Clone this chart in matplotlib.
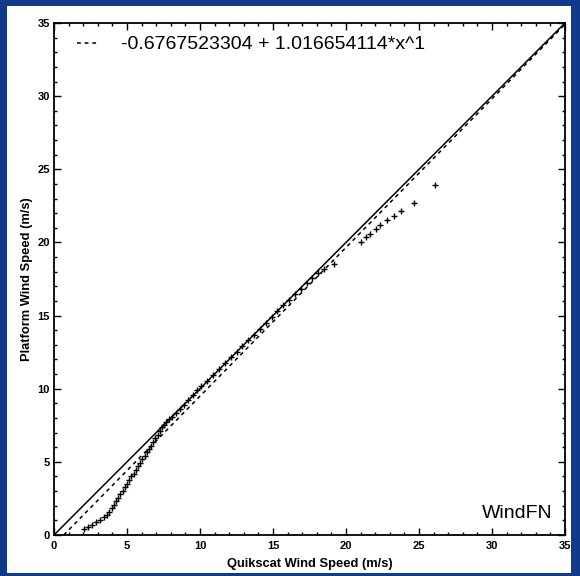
import matplotlib
matplotlib.use('Agg')
import numpy as np
from matplotlib import pyplot as plt
from matplotlib.patches import Rectangle

# quantile pairs (Quikscat vs platform)
quikscat = [2.05, 2.35, 2.6, 2.9, 3.15, 3.4, 3.6, 3.8, 3.95, 4.1, 4.25, 4.4, 4.55,
            4.7, 4.85, 5.0, 5.15, 5.3, 5.45, 5.6, 5.75, 5.9, 6.05, 6.2, 6.35, 6.5,
            6.65, 6.8, 6.95, 7.1, 7.25, 7.4, 7.55, 7.7, 7.9, 8.1, 8.35, 8.6, 8.9,
            9.2, 9.5, 9.8, 10.1, 10.5, 10.9, 11.3, 11.7, 12.1, 12.5, 12.9, 13.3,
            13.7, 14.1, 14.5, 14.9, 15.3, 15.7, 16.1, 16.5, 16.9, 17.3, 17.7, 18.1,
            18.5, 19.2, 21.05, 21.35, 21.65, 22.05, 22.3, 22.8, 23.3, 23.8, 24.65,
            26.1]
platform = [0.4, 0.55, 0.7, 0.88, 1.05, 1.2, 1.38, 1.6, 1.85, 2.05, 2.3, 2.55, 2.8,
            3.0, 3.25, 3.5, 3.75, 4.0, 4.2, 4.45, 4.7, 4.95, 5.2, 5.4, 5.65, 5.9,
            6.1, 6.35, 6.6, 6.85, 7.1, 7.35, 7.55, 7.75, 7.9, 8.1, 8.35, 8.6, 8.9,
            9.25, 9.55, 9.9, 10.2, 10.55, 10.95, 11.35, 11.75, 12.15, 12.5, 12.9,
            13.3, 13.7, 14.1, 14.5, 14.9, 15.3, 15.7, 16.05, 16.45, 16.8, 17.2,
            17.55, 17.9, 18.2, 18.5, 20.0, 20.35, 20.6, 20.9, 21.2, 21.5, 21.8,
            22.15, 22.7, 23.9]

# linear fit shown in the legend
intercept = -0.6767523304
slope = 1.016654114
fit_label = '-0.6767523304 + 1.016654114*x^1'

axis_max = 35
ticks = [0, 5, 10, 15, 20, 25, 30, 35]

border_blue = '#113a8a'

fig = plt.figure(figsize=(5.8, 5.76), dpi=100, facecolor=border_blue)
# white page inside the blue frame
fig.patches.append(Rectangle((7 / 580, 3 / 576), (571 - 7) / 580, (570 - 3) / 576,
                             transform=fig.transFigure, facecolor='white',
                             edgecolor='none', zorder=-10))

ax = fig.add_axes([54 / 580, 1 - 535 / 576, (565 - 54) / 580, (535 - 23) / 576])
ax.set_facecolor('white')

# 1:1 reference line
ax.plot([0, axis_max], [0, axis_max], color='black', lw=1.1)

# fitted line, starts where it crosses zero
x0 = -intercept / slope
ax.plot([x0, axis_max], [intercept + slope * x0, intercept + slope * axis_max],
        color='black', lw=1.1, linestyle=(0, (2.5, 2.5)), label=fit_label)

ax.plot(quikscat, platform, linestyle='none', marker='+', color='black',
        markersize=4, markeredgewidth=1.0)

ax.set_xlim(0, axis_max)
ax.set_ylim(0, axis_max)
ax.set_xticks(ticks)
ax.set_yticks(ticks)
ax.set_xticks(np.arange(0, axis_max + 1, 1), minor=True)
ax.set_yticks(np.arange(0, axis_max + 1, 1), minor=True)
ax.tick_params(which='both', direction='in', top=True, right=True, width=1.0)
ax.tick_params(which='major', length=5, labelsize=8, pad=4)
ax.tick_params(axis='y', which='major', pad=3)
ax.tick_params(which='minor', length=2.5)
for lab in ax.get_xticklabels() + ax.get_yticklabels():
    lab.set_fontweight('bold')
    lab.set_family('Liberation Sans')
for sp in ax.spines.values():
    sp.set_linewidth(1.3)

ax.set_xlabel('Quikscat Wind Speed (m/s)', fontsize=9.3, fontweight='bold',
              family='Liberation Sans', labelpad=5)
ax.set_ylabel('Platform Wind Speed (m/s)', fontsize=9.3, fontweight='bold',
              family='Liberation Sans', labelpad=3)

leg = ax.legend(loc='upper left', frameon=False, handlelength=1.05,
                handletextpad=1.2, borderaxespad=0, borderpad=0,
                bbox_to_anchor=(0.045, 0.975),
                prop={'family': 'Liberation Sans', 'size': 14})

ax.text(0.975, 0.033, 'WindFN', transform=ax.transAxes, ha='right', va='baseline',
        fontsize=14, family='Liberation Sans')

fig.savefig('out.png', dpi=100, facecolor=fig.get_facecolor())
